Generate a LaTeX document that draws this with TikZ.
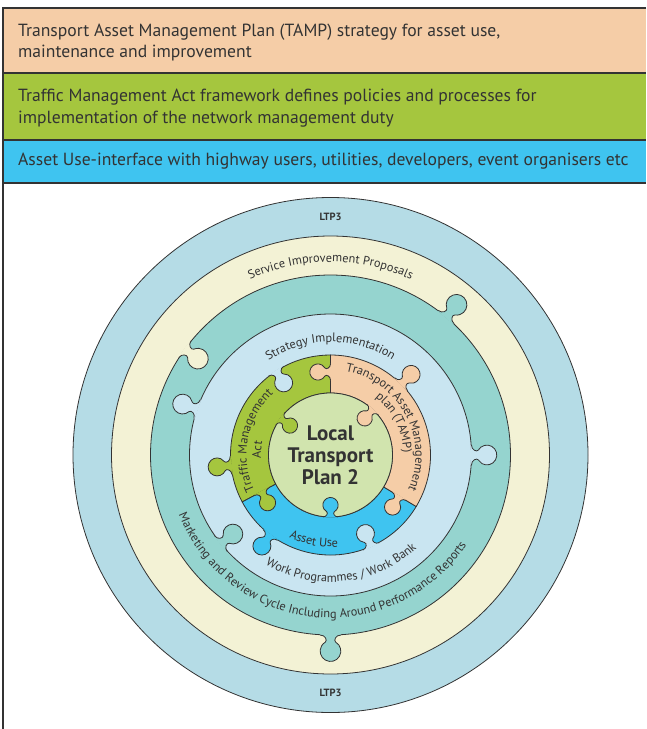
\documentclass[tikz,border=0pt]{standalone}
\usepackage{fontspec}
\setmainfont{PT Sans}
\usepackage{tikz}
\usetikzlibrary{decorations.text}

\definecolor{ink}{HTML}{333333}
\definecolor{peach}{HTML}{F5CDA7}
\definecolor{tmagreen}{HTML}{A5C63E}
\definecolor{useblue}{HTML}{3FC4F0}
\definecolor{ltpblue}{HTML}{B5DCE6}
\definecolor{cream}{HTML}{F3F2D5}
\definecolor{ringteal}{HTML}{95D4CF}
\definecolor{paleblue}{HTML}{C9E5F1}
\definecolor{ltpgreen}{HTML}{D1E4AE}

\newcommand{\bandfont}{\fontsize{12.3}{14}\selectfont\color{ink}}

\newcommand{\knob}[5]{%
  \begin{scope}[shift={(#1)}, rotate=#2, yscale=#3, scale=#5]
  \fill[#4] (-9,-0.8) -- (-9,0) .. controls (-4.5,0) and (-2.5,4.8) .. (-4.5,6.2)
    arc[start angle=240, end angle=-60, radius=9]
    .. controls (2.5,4.8) and (4.5,0) .. (9,0) -- (9,-0.8) -- cycle;
  \draw[rim] (-9,0) .. controls (-4.5,0) and (-2.5,4.8) .. (-4.5,6.2)
    arc[start angle=240, end angle=-60, radius=9]
    .. controls (2.5,4.8) and (4.5,0) .. (9,0);
  \end{scope}}

\begin{document}
\begin{tikzpicture}[x=1pt, y=1pt,
  rim/.style={draw=ink, line width=0.8pt},
  frame/.style={draw=ink, line width=1.2pt},
  head/.style={anchor=base west, inner sep=0pt, text=ink, font=\fontsize{17.6}{20}\selectfont},
  ltp/.style={inner sep=0pt, text=ink, font=\fontsize{10.5}{12}\selectfont\bfseries},
  curved/.style={decorate, decoration={text along path, text align=center, text={|\bandfont|#1}}}]
\useasboundingbox (0,0) rectangle (646,-729);

\fill[peach] (3,-8) rectangle (646,-73);
\fill[tmagreen] (3,-73) rectangle (646,-140);
\fill[useblue] (3,-140) rectangle (646,-183);
\draw[frame] (646,-8) -- (3,-8) -- (3,-729);
\draw[frame] (3,-73) -- (646,-73);
\draw[frame] (3,-140) -- (646,-140);
\draw[frame] (3,-183) -- (646,-183);

\node (tamp1) at (18,-36.5) [head] {Transport Asset Management Plan (TAMP) strategy for asset use,};
\node (tamp2) at (18,-57.5) [head] {maintenance and improvement};
\node (tma1) at (18,-101) [head] {Traffic Management Act framework defines policies and processes for};
\node (tma2) at (18,-123.5) [head] {implementation of the network management duty};
\node (use1) at (18,-165.5) [head] {Asset Use-interface with highway users, utilities, developers, event organisers etc};

\begin{scope}[shift={(330.5,-455)}]
\filldraw[rim, fill=ltpblue] (0,0) circle[radius=257.5];
\filldraw[rim, fill=cream] (0,0) circle[radius=219];
\filldraw[rim, fill=ringteal] (0,0) circle[radius=180];
\filldraw[rim, fill=paleblue] (0,0) circle[radius=141];
\knob{50:180}{-40}{1}{ringteal}{1.15}
\knob{270:180}{180}{1}{ringteal}{1.15}
\knob{144:180}{54}{-1}{cream}{1.15}
\knob{161:141}{71}{1}{paleblue}{1.1}
\knob{0:141}{-90}{1}{paleblue}{1.1}
\knob{219:141}{129}{-1}{ringteal}{1.1}

\filldraw[rim, fill=tmagreen] (90:62) -- (90:100) arc[start angle=90, end angle=208, radius=100]
  -- (208:62) arc[start angle=208, end angle=90, radius=62] -- cycle;
\filldraw[rim, fill=useblue] (208:62) -- (208:100) arc[start angle=208, end angle=329, radius=100]
  -- (329:62) arc[start angle=329, end angle=208, radius=62] -- cycle;
\filldraw[rim, fill=peach] (-31:62) -- (-31:100) arc[start angle=-31, end angle=90, radius=100]
  -- (90:62) arc[start angle=90, end angle=-31, radius=62] -- cycle;
\filldraw[rim, fill=ltpgreen] (0,0) circle[radius=62];

\knob{186:100}{96}{1}{tmagreen}{1}
\knob{45:100}{-45}{1}{peach}{1}
\knob{233:100}{143}{1}{useblue}{1}
\knob{123:100}{33}{-1}{paleblue}{1}
\knob{-66:100}{-156}{-1}{paleblue}{1}
\knob{144:62}{54}{-1}{tmagreen}{0.85}
\knob{47:62}{-43}{-1}{peach}{0.85}
\knob{270:62}{180}{-1}{useblue}{0.85}
\knob{90:83}{90}{1}{peach}{0.9}
\knob{208:78}{208}{1}{tmagreen}{0.9}
\knob{-31:80}{-31}{-1}{peach}{0.9}

\node (ltptop) at (0,238) [ltp] {LTP3};
\node (ltpbot) at (0,-238) [ltp] {LTP3};
\node (ltp2) at (0,0) [align=center, inner sep=0pt, text=ink, font=\fontsize{21}{22}\selectfont\bfseries] {Local\\Transport\\Plan 2};

\path[curved={Service Improvement Proposals}] (150:193) arc[start angle=150, end angle=30, radius=193];
\path[curved={Strategy Implementation}] (150:113) arc[start angle=150, end angle=30, radius=113];
\path[curved={Work Programmes / Work Bank}] (186:127) arc[start angle=186, end angle=366, radius=127];
\path[curved={Marketing and Review Cycle Including Around Performance Reports}] (174:163) arc[start angle=174, end angle=354, radius=163];
\path[curved={Traffic Management}] (259:84) arc[start angle=259, end angle=79, radius=84];
\path[curved={Act}] (266:69.5) arc[start angle=266, end angle=86, radius=69.5];
\path[curved={Transport Asset Management}] (118:85) arc[start angle=118, end angle=-62, radius=85];
\path[curved={plan (TAMP)}] (117:73) arc[start angle=117, end angle=-63, radius=73];
\path[curved={Asset Use}] (199:92) arc[start angle=199, end angle=319, radius=92];
\end{scope}
\end{tikzpicture}
\end{document}
